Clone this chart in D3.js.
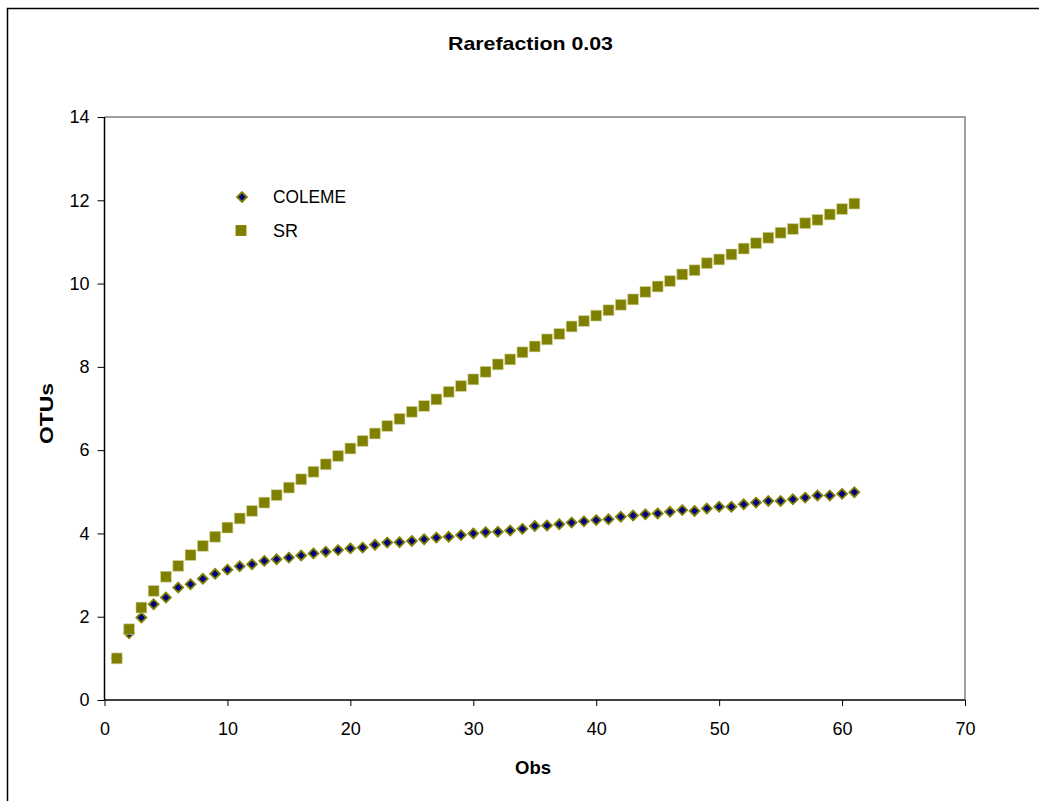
<!DOCTYPE html>
<html>
<head>
<meta charset="utf-8">
<script src="https://d3js.org/d3.v7.min.js"></script>
<style>
  body { margin: 0; background: #fff; }
  text { font-family: Arial, "Liberation Sans", sans-serif; fill: #000; }
</style>
</head>
<body>
<svg id="vis"></svg>
<script>
  // data
  obs = d3.range(1, 62)
  coleme = [1.00, 1.60, 1.98, 2.30, 2.46, 2.70, 2.78, 2.91, 3.03, 3.13,
            3.21, 3.26, 3.34, 3.38, 3.42, 3.47, 3.52, 3.56, 3.60, 3.64,
            3.66, 3.73, 3.78, 3.79, 3.82, 3.86, 3.90, 3.92, 3.96, 4.00,
            4.03, 4.04, 4.07, 4.11, 4.18, 4.19, 4.22, 4.26, 4.29, 4.32,
            4.34, 4.40, 4.43, 4.46, 4.48, 4.52, 4.56, 4.54, 4.60, 4.64,
            4.64, 4.70, 4.74, 4.78, 4.78, 4.82, 4.86, 4.91, 4.91, 4.95,
            4.99]
  sr = [1.00, 1.70, 2.22, 2.62, 2.96, 3.22, 3.48, 3.70, 3.92, 4.14,
        4.36, 4.54, 4.74, 4.92, 5.10, 5.30, 5.48, 5.66, 5.86, 6.04,
        6.22, 6.40, 6.58, 6.75, 6.92, 7.06, 7.22, 7.40, 7.54, 7.70,
        7.88, 8.06, 8.18, 8.35, 8.49, 8.66, 8.79, 8.97, 9.10, 9.23,
        9.36, 9.49, 9.62, 9.80, 9.93, 10.06, 10.22, 10.32, 10.49, 10.58,
        10.70, 10.84, 10.97, 11.10, 11.22, 11.31, 11.45, 11.53, 11.66, 11.79,
        11.92]
  xTicks = [0, 10, 20, 30, 40, 50, 60, 70]
  yTicks = [0, 2, 4, 6, 8, 10, 12, 14]
  seriesNames = ['COLEME', 'SR']

  var W = 1039
  var H = 801
  var pLeft = 104.5, pRight = 965, pTop = 117, pBottom = 700

  var svg = d3.select('#vis')
      .attr('width', W)
      .attr('height', H)

  // chart border
  svg.append('rect')
    .attr('x', 7.5).attr('y', 8.5)
    .attr('width', W + 10).attr('height', H + 10)
    .attr('fill', 'none')
    .attr('stroke', '#000')
    .attr('stroke-width', 1.5)

  var x = d3.scaleLinear().domain([0, 70]).range([pLeft, pRight])
  var y = d3.scaleLinear().domain([0, 14]).range([pBottom, pTop])

  // plot area frame (top / right grey)
  svg.append('path')
    .attr('d', 'M' + pLeft + ',' + pTop + 'H' + pRight + 'V' + pBottom)
    .attr('fill', 'none')
    .attr('stroke', '#808080')
    .attr('stroke-width', 1.5)

  // axes
  var xAxis = svg.append('g')
    .attr('transform', 'translate(0,' + pBottom + ')')
    .call(d3.axisBottom(x).tickValues(xTicks).tickSize(6).tickPadding(16))
  var yAxis = svg.append('g')
    .attr('transform', 'translate(' + pLeft + ',0)')
    .call(d3.axisLeft(y).tickValues(yTicks).tickSize(7).tickPadding(8))

  ;[xAxis, yAxis].forEach(function(a) {
    a.select('.domain').attr('stroke', '#000').attr('stroke-width', 1.5)
    a.selectAll('.tick line').attr('stroke', '#000').attr('stroke-width', 1)
    a.selectAll('.tick text')
      .style('font-family', 'Arial, "Liberation Sans", sans-serif')
      .style('font-size', '18px')
      .attr('fill', '#000')
  })
  xAxis.select('.domain').attr('d', 'M' + pLeft + ',0H' + pRight)
  yAxis.select('.domain').attr('d', 'M0,' + pBottom + 'V' + pTop)

  // markers
  var diamond = d3.symbol().type(d3.symbolDiamond2).size(62)
  var square = d3.symbol().type(d3.symbolSquare).size(118)

  svg.append('g').selectAll('path')
    .data(obs.map(function(d, i) { return [d, coleme[i]] }))
    .enter().append('path')
    .attr('d', diamond)
    .attr('transform', function(d) { return 'translate(' + x(d[0]) + ',' + y(d[1]) + ')' })
    .attr('fill', '#000080')
    .attr('stroke', '#808000')
    .attr('stroke-width', 1.8)

  svg.append('g').selectAll('path')
    .data(obs.map(function(d, i) { return [d, sr[i]] }))
    .enter().append('path')
    .attr('d', square)
    .attr('transform', function(d) { return 'translate(' + x(d[0]) + ',' + y(d[1]) + ')' })
    .attr('fill', '#808000')
    .attr('stroke', '#d8d8a8')
    .attr('stroke-width', 0.6)

  // legend
  svg.append('path')
    .attr('d', diamond)
    .attr('transform', 'translate(242,197)')
    .attr('fill', '#000080')
    .attr('stroke', '#808000')
    .attr('stroke-width', 1.8)
  svg.append('path')
    .attr('d', square)
    .attr('transform', 'translate(241,230.5)')
    .attr('fill', '#808000')
  svg.append('text')
    .attr('x', 273).attr('y', 203)
    .attr('font-size', 18)
    .attr('textLength', 73).attr('lengthAdjust', 'spacingAndGlyphs')
    .text(seriesNames[0])
  svg.append('text')
    .attr('x', 273).attr('y', 237)
    .attr('font-size', 18)
    .text(seriesNames[1])

  // titles
  svg.append('text')
    .attr('x', 448).attr('y', 50)
    .attr('font-size', 19).attr('font-weight', 'bold')
    .attr('textLength', 165).attr('lengthAdjust', 'spacingAndGlyphs')
    .text('Rarefaction 0.03')
  svg.append('text')
    .attr('x', 515).attr('y', 773.5)
    .attr('font-size', 18).attr('font-weight', 'bold')
    .attr('textLength', 36).attr('lengthAdjust', 'spacingAndGlyphs')
    .text('Obs')
  svg.append('text')
    .attr('transform', 'translate(52.5,444) rotate(-90)')
    .attr('font-size', 18).attr('font-weight', 'bold')
    .attr('textLength', 61).attr('lengthAdjust', 'spacingAndGlyphs')
    .text('OTUs')
</script>
</body>
</html>
